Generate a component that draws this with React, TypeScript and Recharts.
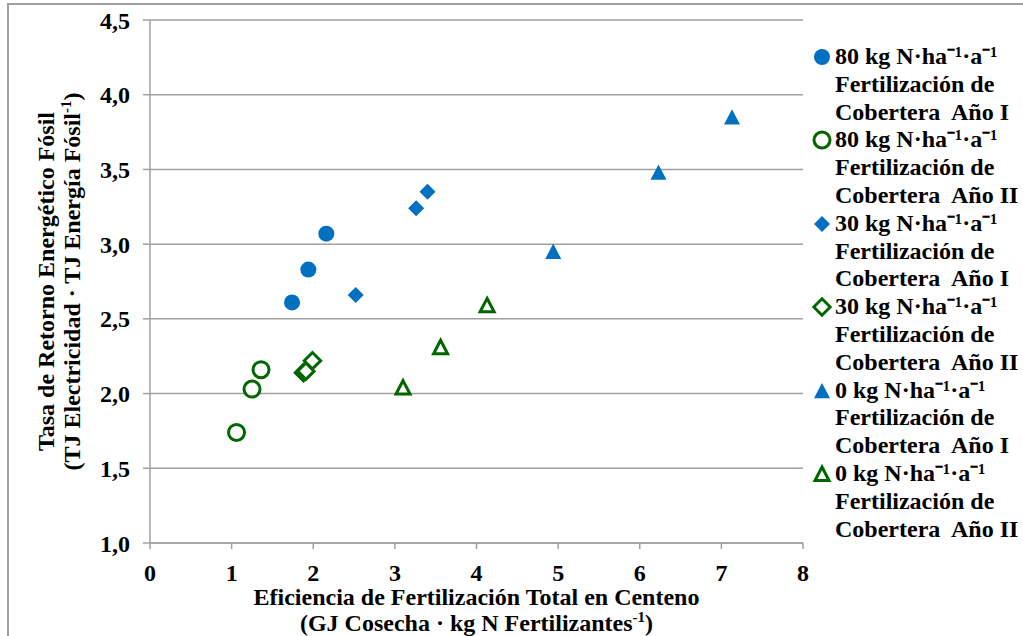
import React from "react";
import {
  ScatterChart,
  Scatter,
  XAxis,
  YAxis,
  CartesianGrid,
} from "recharts";

// values (x: GJ/kg N, y: TJ/TJ)
const blueCircleX = [1.74, 1.94, 2.16];
const blueCircleY = [2.61, 2.83, 3.07];
const greenCircleX = [1.06, 1.25, 1.36];
const greenCircleY = [1.74, 2.03, 2.16];
const blueDiamondX = [2.52, 3.26, 3.4];
const blueDiamondY = [2.66, 3.24, 3.35];
const greenDiamondX = [1.88, 1.91, 1.99];
const greenDiamondY = [2.14, 2.15, 2.22];
const blueTriangleX = [4.94, 6.23, 7.13];
const blueTriangleY = [2.95, 3.48, 3.85];
const greenTriangleX = [3.1, 3.56, 4.13];
const greenTriangleY = [2.04, 2.31, 2.59];

const xTicks = [0, 1, 2, 3, 4, 5, 6, 7, 8];
const yTicks = [1, 1.5, 2, 2.5, 3, 3.5, 4, 4.5];

const seriesNames = [
  "80 kg N·ha⁻¹·a⁻¹ Fertilización de Cobertera  Año I",
  "80 kg N·ha⁻¹·a⁻¹ Fertilización de Cobertera  Año II",
  "30 kg N·ha⁻¹·a⁻¹ Fertilización de Cobertera  Año I",
  "30 kg N·ha⁻¹·a⁻¹ Fertilización de Cobertera  Año II",
  "0 kg N·ha⁻¹·a⁻¹ Fertilización de Cobertera  Año I",
  "0 kg N·ha⁻¹·a⁻¹ Fertilización de Cobertera  Año II",
];

const BLUE = "#0070C0";
const GREEN = "#006600";
const GRID = "#a0a0a0";
const FONT = "'Liberation Serif', 'Times New Roman', serif";

const toPoints = (xs: number[], ys: number[]) =>
  xs.map((x, i) => ({ x, y: ys[i] }));

type Kind = "circle" | "diamond" | "triangle";

function Marker({ cx, cy, kind, filled, color }: any) {
  const sw = filled ? 0 : 3;
  const fill = filled ? color : "#fff";
  if (kind === "circle") {
    return <circle cx={cx} cy={cy} r={8} fill={fill} stroke={color} strokeWidth={sw} />;
  }
  if (kind === "diamond") {
    const h = filled ? 8 : 8.2;
    return (
      <polygon
        points={`${cx},${cy - h} ${cx + h},${cy} ${cx},${cy + h} ${cx - h},${cy}`}
        fill={fill}
        stroke={color}
        strokeWidth={sw}
        strokeLinejoin="miter"
      />
    );
  }
  const h = filled ? 8 : 7;
  return (
    <polygon
      points={`${cx},${cy - h} ${cx + h},${cy + h * 0.92} ${cx - h},${cy + h * 0.92}`}
      fill={fill}
      stroke={color}
      strokeWidth={sw}
      strokeLinejoin="miter"
    />
  );
}

const series = [
  { data: toPoints(blueCircleX, blueCircleY), kind: "circle" as Kind, filled: true, color: BLUE },
  { data: toPoints(greenCircleX, greenCircleY), kind: "circle" as Kind, filled: false, color: GREEN },
  { data: toPoints(blueDiamondX, blueDiamondY), kind: "diamond" as Kind, filled: true, color: BLUE },
  { data: toPoints(greenDiamondX, greenDiamondY), kind: "diamond" as Kind, filled: false, color: GREEN },
  { data: toPoints(blueTriangleX, blueTriangleY), kind: "triangle" as Kind, filled: true, color: BLUE },
  { data: toPoints(greenTriangleX, greenTriangleY), kind: "triangle" as Kind, filled: false, color: GREEN },
];

const tickStyle = { fontSize: 24, fontWeight: "bold", fill: "#000", fontFamily: FONT };

const fmt = (v: number) => v.toFixed(1).replace(".", ",");

function XTitle({ viewBox }: any) {
  const cx = viewBox.x + viewBox.width / 2;
  return (
    <g fontFamily={FONT} fontWeight="bold" fontSize={24} fill="#000">
      <text x={cx} y={605} textAnchor="middle">
        Eficiencia de Fertilización Total en Centeno
      </text>
      <text x={cx} y={631} textAnchor="middle">
        (GJ Cosecha · kg N Fertilizantes
        <tspan fontSize={15} dy={-9}>-1</tspan>
        <tspan dy={9}>)</tspan>
      </text>
    </g>
  );
}

function YTitle({ viewBox }: any) {
  const cy = viewBox.y + viewBox.height / 2;
  return (
    <g fontFamily={FONT} fontWeight="bold" fontSize={24} fill="#000" transform="rotate(-90)">
      <text x={-cy} y={54} textAnchor="middle">
        Tasa de Retorno Energético Fósil
      </text>
      <text x={-cy} y={80} textAnchor="middle">
        (TJ Electricidad · TJ Energía Fósil
        <tspan fontSize={15} dy={-9}>-1</tspan>
        <tspan dy={9}>)</tspan>
      </text>
    </g>
  );
}

function LegendBox() {
  return (
    <div
      style={{
        position: "absolute",
        left: 812,
        top: 43,
        fontFamily: FONT,
        fontWeight: "bold",
        fontSize: 24,
        lineHeight: "27.8px",
        whiteSpace: "pre",
        color: "#000",
      }}
    >
      {series.map((s, i) => {
        const [first, rest] = seriesNames[i].split(" Fertilización de ");
        return (
          <div key={i} style={{ position: "relative", paddingLeft: 23 }}>
            <svg
              width={20}
              height={20}
              style={{ position: "absolute", left: 0, top: 4 }}
            >
              <Marker cx={10} cy={10} kind={s.kind} filled={s.filled} color={s.color} />
            </svg>
            <div>{first}</div>
            <div>Fertilización de</div>
            <div>{rest}</div>
          </div>
        );
      })}
    </div>
  );
}

export default function App() {
  return (
    <div style={{ position: "absolute", left: 0, top: 0, width: 1023, height: 636, background: "#fff" }}>
      <div
        style={{
          position: "absolute",
          left: 7,
          top: 3,
          right: 0,
          bottom: 0,
          borderTop: `2px solid ${GRID}`,
          borderLeft: `2px solid ${GRID}`,
        }}
      />
      <div style={{ position: "absolute", left: 0, top: 0 }}>
        <ScatterChart
          width={1023}
          height={636}
          margin={{ top: 20, right: 220, bottom: 0, left: 0 }}
        >
          <CartesianGrid vertical={false} stroke={GRID} strokeWidth={1.5} />
          <XAxis
            type="number"
            dataKey="x"
            domain={[0, 8]}
            ticks={xTicks}
            interval={0}
            height={93}
            tickSize={6}
            tickMargin={15}
            stroke={GRID}
            strokeWidth={1.5}
            tick={tickStyle}
            label={<XTitle />}
          />
          <YAxis
            type="number"
            dataKey="y"
            domain={[1, 4.5]}
            ticks={yTicks}
            interval={0}
            width={150}
            tickSize={7}
            tickMargin={13}
            stroke={GRID}
            strokeWidth={1.5}
            tick={tickStyle}
            tickFormatter={fmt}
            label={<YTitle />}
          />
          {series.map((s, i) => (
            <Scatter
              key={i}
              name={seriesNames[i]}
              data={s.data}
              isAnimationActive={false}
              shape={(p: any) => (
                <Marker cx={p.cx} cy={p.cy} kind={s.kind} filled={s.filled} color={s.color} />
              )}
            />
          ))}
        </ScatterChart>
      </div>
      <LegendBox />
    </div>
  );
}
